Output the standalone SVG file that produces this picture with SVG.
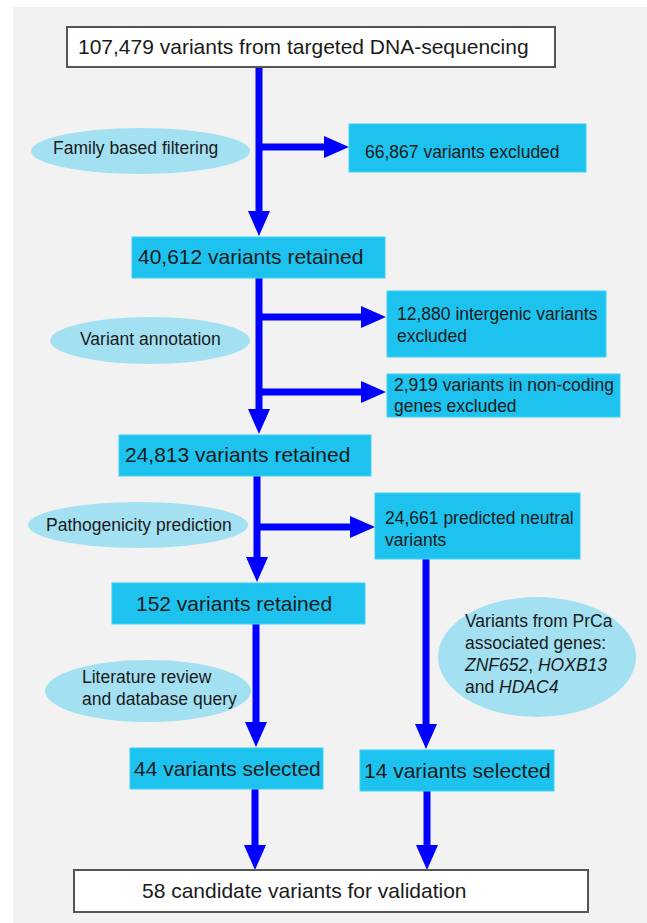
<svg xmlns="http://www.w3.org/2000/svg" width="647" height="923" viewBox="0 0 647 923">
  <style>
    .box { fill: #1dc3ee; stroke: #3fd0f5; stroke-width: 1; }
    .wbox { fill: #ffffff; stroke: #555555; stroke-width: 2; }
    .ell { fill: #a3e1f2; }
    .lg { font-family: "Liberation Sans", Arial, sans-serif; font-size: 21px; fill: #1a1a1a; }
    .sm { font-family: "Liberation Sans", Arial, sans-serif; font-size: 17.5px; fill: #1a1a1a; }
    .el { font-family: "Liberation Sans", Arial, sans-serif; font-size: 17.5px; fill: #1a1a1a; }
    .arr { stroke: #0000ff; stroke-width: 7; fill: none; marker-end: url(#head); }
  </style>
  <defs>
    <marker id="head" markerUnits="userSpaceOnUse" viewBox="0 0 25 22" markerWidth="25" markerHeight="22" refX="2" refY="11" orient="auto">
      <path d="M0,0 L25,11 L0,22 z" fill="#0000ff"/>
    </marker>
  </defs>
  <rect x="0" y="0" width="647" height="923" fill="#ffffff"/>
  <rect x="13" y="7" width="634" height="916" fill="#f2f2f2"/>

  <g id="connectors">
    <line class="arr" x1="259" y1="67" x2="259" y2="213"/>
    <line class="arr" x1="259" y1="147" x2="326" y2="147"/>
    <line class="arr" x1="259" y1="278" x2="259" y2="411"/>
    <line class="arr" x1="259" y1="317" x2="363" y2="317"/>
    <line class="arr" x1="259" y1="392" x2="363" y2="392"/>
    <line class="arr" x1="257" y1="476" x2="257" y2="559"/>
    <line class="arr" x1="257" y1="527" x2="352" y2="527"/>
    <line class="arr" x1="256" y1="624" x2="256" y2="724"/>
    <line class="arr" x1="426" y1="559" x2="426" y2="726"/>
    <line class="arr" x1="255" y1="789" x2="255" y2="847"/>
    <line class="arr" x1="427" y1="791" x2="427" y2="847"/>
  </g>

  <g id="n-start">
    <rect class="wbox" x="67" y="27" width="488" height="40"/>
    <text class="lg" x="78" y="54">107,479 variants from targeted DNA-sequencing</text>
  </g>
  <g id="n-family">
    <ellipse class="ell" cx="140.5" cy="151" rx="109.5" ry="23"/>
    <text class="el" x="53" y="154">Family based filtering</text>
  </g>
  <g id="n-excl1">
    <rect class="box" x="349" y="124" width="237" height="48"/>
    <text class="sm" x="365" y="158">66,867 variants excluded</text>
  </g>
  <g id="n-ret1">
    <rect class="box" x="132" y="237" width="253" height="41"/>
    <text class="lg" x="138" y="264">40,612 variants retained</text>
  </g>
  <g id="n-annot">
    <ellipse class="ell" cx="150" cy="340.5" rx="100" ry="23.5"/>
    <text class="el" x="80" y="345">Variant annotation</text>
  </g>
  <g id="n-excl2">
    <rect class="box" x="387" y="291" width="219" height="66"/>
    <text class="sm" x="397" y="320">12,880 intergenic variants</text>
    <text class="sm" x="397" y="342">excluded</text>
  </g>
  <g id="n-excl3">
    <rect class="box" x="387" y="374" width="233" height="43"/>
    <text class="sm" x="394" y="391">2,919 variants in non-coding</text>
    <text class="sm" x="394" y="412">genes excluded</text>
  </g>
  <g id="n-ret2">
    <rect class="box" x="119" y="435" width="252" height="41"/>
    <text class="lg" x="125" y="462">24,813 variants retained</text>
  </g>
  <g id="n-patho">
    <ellipse class="ell" cx="138" cy="525" rx="110" ry="23"/>
    <text class="el" x="46" y="531">Pathogenicity prediction</text>
  </g>
  <g id="n-neutral">
    <rect class="box" x="375" y="493" width="205" height="66"/>
    <text class="sm" x="385" y="524">24,661 predicted neutral</text>
    <text class="sm" x="385" y="546">variants</text>
  </g>
  <g id="n-ret3">
    <rect class="box" x="112" y="583" width="253" height="41"/>
    <text class="lg" x="136" y="611">152 variants retained</text>
  </g>
  <g id="n-prca">
    <ellipse class="ell" cx="537" cy="657" rx="99" ry="60"/>
    <text class="el" x="465" y="627">Variants from PrCa</text>
    <text class="el" x="465" y="649">associated genes:</text>
    <text class="el" x="465" y="671"><tspan font-style="italic">ZNF652</tspan>, <tspan font-style="italic">HOXB13</tspan></text>
    <text class="el" x="465" y="693">and <tspan font-style="italic">HDAC4</tspan></text>
  </g>
  <g id="n-lit">
    <ellipse class="ell" cx="148" cy="691" rx="103" ry="31"/>
    <text class="el" x="82" y="683">Literature review</text>
    <text class="el" x="82" y="705">and database query</text>
  </g>
  <g id="n-sel1">
    <rect class="box" x="130" y="748" width="193" height="41"/>
    <text class="lg" x="134" y="776">44 variants selected</text>
  </g>
  <g id="n-sel2">
    <rect class="box" x="360" y="750" width="194" height="41"/>
    <text class="lg" x="364" y="778">14 variants selected</text>
  </g>
  <g id="n-final">
    <rect class="wbox" x="74" y="870" width="514" height="42"/>
    <text class="lg" x="142" y="898">58 candidate variants for validation</text>
  </g>
</svg>
